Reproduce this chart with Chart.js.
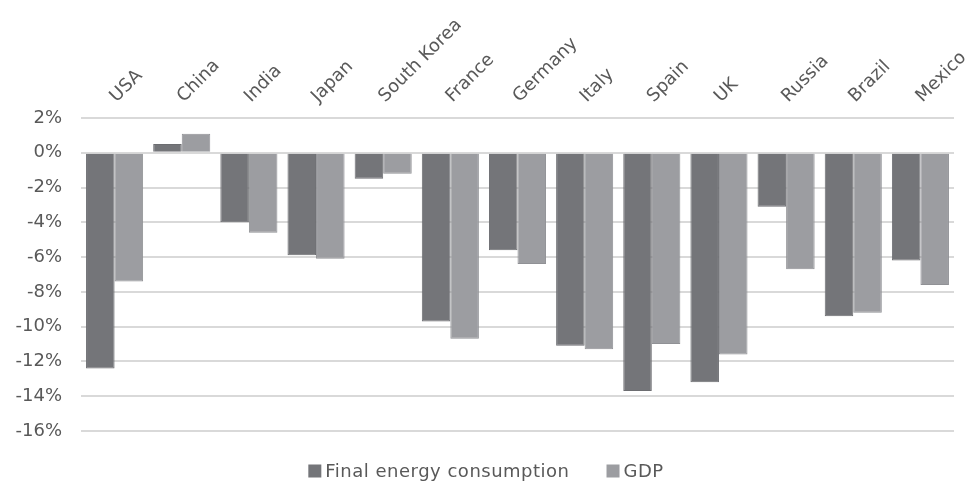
<!DOCTYPE html>
<html>
<head>
<meta charset="utf-8">
<script src="https://cdn.jsdelivr.net/npm/chart.js@4/dist/chart.umd.min.js"></script>
<style>
  html, body { margin: 0; padding: 0; background: #ffffff; }
  #wrap { width: 972px; height: 483px; position: relative; }
</style>
</head>
<body>
<div id="wrap"><canvas id="c"></canvas></div>
<script>
// Change by country, in percent
const countries = ['USA', 'China', 'India', 'Japan', 'South Korea', 'France', 'Germany',
                   'Italy', 'Spain', 'UK', 'Russia', 'Brazil', 'Mexico'];
const finalEnergy = [-12.4, 0.5, -4.0, -5.9, -1.5, -9.7, -5.6, -11.1, -13.7, -13.2, -3.1, -9.4, -6.2];
const gdp = [-7.4, 1.1, -4.6, -6.1, -1.2, -10.7, -6.4, -11.3, -11.0, -11.6, -6.7, -9.2, -7.6];
const seriesNames = ['Final energy consumption', 'GDP'];
const yMin = -16, yMax = 2, yStep = 2;

const textColor = '#595959';
const fontFamily = "'DejaVu Sans', Verdana, sans-serif";
const fontSize = 18;

// Legend drawn centred under the plot, with a tight box-to-text gap
const bottomLegend = {
  id: 'bottomLegend',
  afterDraw(chart) {
    const ctx = chart.ctx;
    const box = 13, gapText = 4, gapItem = 37;
    ctx.save();
    ctx.font = fontSize + 'px ' + fontFamily;
    if ('letterSpacing' in ctx) ctx.letterSpacing = '0.5px';
    ctx.textBaseline = 'middle';
    ctx.textAlign = 'left';
    const items = chart.data.datasets.map(ds => ({
      text: ds.label, color: ds.backgroundColor, w: box + gapText + ctx.measureText(ds.label).width
    }));
    const total = items.reduce((s, it) => s + it.w, 0) + gapItem * (items.length - 1);
    let x = (chart.width - total) / 2;
    const y = 471;
    items.forEach(it => {
      ctx.fillStyle = it.color;
      ctx.fillRect(x, y - box / 2, box, box);
      ctx.fillStyle = textColor;
      ctx.fillText(it.text, x + box + gapText, y + 1);
      x += it.w + gapItem;
    });
    ctx.restore();
  }
};

new Chart(document.getElementById('c'), {
  type: 'bar',
  data: {
    labels: countries,
    datasets: [
      {
        label: seriesNames[0],
        data: finalEnergy,
        backgroundColor: '#747579',
        borderColor: '#6c6d71',
        borderWidth: 1,
        categoryPercentage: 0.85,
        barPercentage: 1.0
      },
      {
        label: seriesNames[1],
        data: gdp,
        backgroundColor: '#9c9da1',
        borderColor: '#909195',
        borderWidth: 1,
        categoryPercentage: 0.85,
        barPercentage: 1.0
      }
    ]
  },
  plugins: [bottomLegend],
  options: {
    responsive: true,
    maintainAspectRatio: false,
    animation: false,
    layout: { padding: { left: 0, right: 18, top: 0, bottom: 52 } },
    plugins: {
      tooltip: { enabled: false },
      legend: { display: false }
    },
    scales: {
      x: {
        position: 'top',
        grid: { display: false },
        border: { display: false },
        afterFit: s => { s.height = 118; },
        ticks: {
          color: textColor,
          font: { family: fontFamily, size: fontSize },
          minRotation: 45,
          maxRotation: 45,
          autoSkip: false,
          padding: 3,
          labelOffset: 14
        }
      },
      y: {
        min: yMin,
        max: yMax,
        afterFit: s => { s.width = 81; },
        grid: { color: '#d9d9d9', lineWidth: 2, drawTicks: false },
        border: { display: false },
        ticks: {
          stepSize: yStep,
          color: textColor,
          font: { family: fontFamily, size: fontSize },
          padding: 19,
          callback: v => v + '%'
        }
      }
    }
  }
});
</script>
</body>
</html>
